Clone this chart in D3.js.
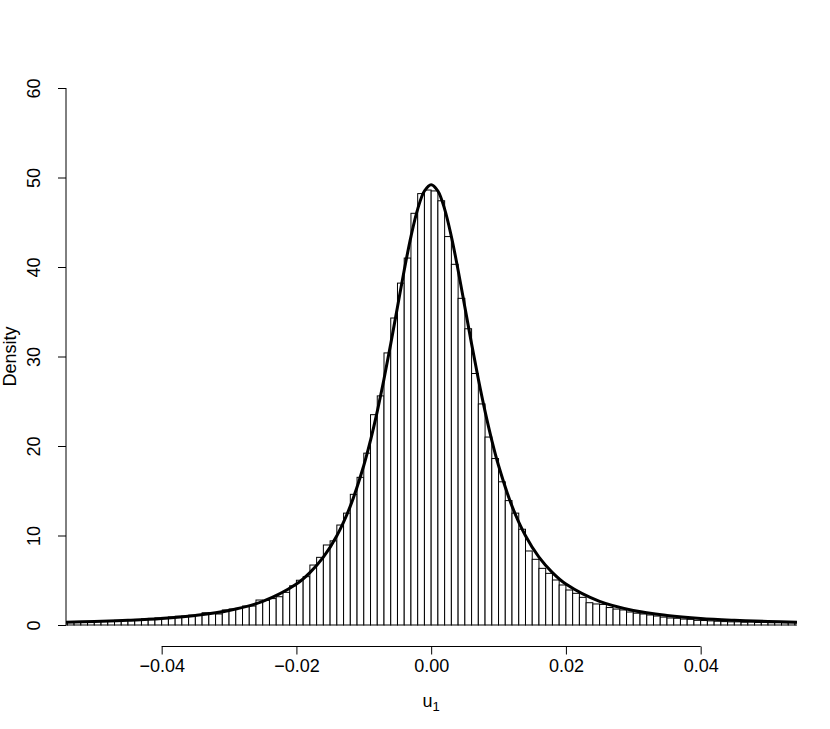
<!DOCTYPE html>
<html><head><meta charset="utf-8">
<script src="https://cdn.jsdelivr.net/npm/d3@7/dist/d3.min.js"></script>
<style>body{margin:0;background:#fff}svg{display:block}text{font-family:"Liberation Sans",Arial,Helvetica,sans-serif;fill:#000}</style>
</head><body>
<svg id="chart" width="830" height="729"></svg>
<script>
// Histogram bins: left edges (width 0.001) and densities
const binStart = d3.range(-55, 55).map(i => i / 1000);
const binDensity = [
  0.35, 0.37, 0.36, 0.33, 0.38, 0.42, 0.47, 0.48, 0.52, 0.50,
  0.60, 0.62, 0.68, 0.74, 0.80, 0.85, 0.90, 0.98, 1.00, 1.10,
  1.12, 1.37, 1.37, 1.23, 1.68, 1.79, 1.86, 2.12, 2.12, 2.79,
  2.75, 2.95, 3.16, 3.65, 4.38, 5.00, 5.40, 6.70, 7.56, 8.94,
  9.40, 11.17, 12.50, 14.60, 16.50, 19.20, 23.50, 25.60, 30.40, 34.30,
  38.20, 41.00, 46.00, 48.20, 48.60,
  48.50, 47.40, 43.40, 40.30, 36.50, 33.10, 28.10, 24.70, 21.00, 18.60,
  16.00, 13.90, 12.50, 10.70, 8.27, 7.34, 6.33, 5.77, 5.03, 4.47,
  3.91, 3.54, 3.09, 2.49, 2.35, 2.30, 1.95, 1.78, 1.68, 1.45,
  1.32, 1.23, 1.12, 1.00, 0.88, 0.78, 0.75, 0.66, 0.63, 0.52,
  0.50, 0.46, 0.42, 0.38, 0.35, 0.35, 0.31, 0.33, 0.28, 0.30,
  0.26, 0.27, 0.25, 0.26, 0.25
];
const binWidth = 0.001;
// Fitted density curve
const curveX = [-0.0545, -0.05, -0.045, -0.04, -0.035, -0.03, -0.025, -0.02, -0.018, -0.016, -0.014, -0.012, -0.01, -0.009, -0.008, -0.007, -0.006, -0.005, -0.004, -0.003, -0.002, -0.001, 0,
  0.001, 0.002, 0.003, 0.004, 0.005, 0.006, 0.007, 0.008, 0.009, 0.01, 0.012, 0.014, 0.016, 0.018, 0.02, 0.025, 0.03, 0.035, 0.04, 0.045, 0.05, 0.0545];
const curveY = [0.30, 0.39, 0.53, 0.73, 1.07, 1.62, 2.63, 4.57, 5.85, 7.58, 9.97, 13.28, 17.82, 20.64, 23.87, 27.48, 31.41, 35.54, 39.64, 43.40, 46.47, 48.49, 49.20,
  48.49, 46.47, 43.40, 39.64, 35.54, 31.41, 27.48, 23.87, 20.64, 17.82, 13.28, 9.97, 7.58, 5.85, 4.57, 2.63, 1.62, 1.07, 0.73, 0.53, 0.39, 0.30];
const xTicks = [-0.04, -0.02, 0, 0.02, 0.04];
const xTickLabels = ["\u22120.04", "\u22120.02", "0.00", "0.02", "0.04"];
const yTicks = [0, 10, 20, 30, 40, 50, 60];
const xLabel = "u";
const xLabelSub = "1";
const yLabel = "Density";

const FS = 18;
const svg = d3.select("#chart");
const pLeft = 66, pRight = 797, pTop = 66.5, pBottom = 646.5;
const x = d3.scaleLinear().domain([-0.0542, 0.0543]).range([pLeft, pRight]);
const y = d3.scaleLinear().domain([0, 60]).range([625, 88]);

svg.append("defs").append("clipPath").attr("id", "clip")
  .append("rect").attr("x", pLeft).attr("y", pTop).attr("width", pRight - pLeft).attr("height", pBottom - pTop);

const plot = svg.append("g").attr("clip-path", "url(#clip)");
plot.selectAll("rect.bar").data(binStart.map((s, i) => ({s, d: binDensity[i]})))
  .join("rect").attr("class", "bar")
  .attr("x", d => x(d.s)).attr("width", d => x(d.s + binWidth) - x(d.s))
  .attr("y", d => y(d.d)).attr("height", d => y(0) - y(d.d))
  .attr("fill", "#fff").attr("stroke", "#000").attr("stroke-width", 1);

const line = d3.line().x((d, i) => x(curveX[i])).y(d => y(d)).curve(d3.curveCatmullRom.alpha(0.5));
plot.append("path").attr("d", line(curveY)).attr("fill", "none")
  .attr("stroke", "#000").attr("stroke-width", 3).attr("stroke-linejoin", "round");

// X axis
const xa = svg.append("g").attr("transform", `translate(0,${pBottom})`)
  .call(d3.axisBottom(x).tickValues(xTicks).tickSize(8).tickPadding(5).tickFormat((d, i) => xTickLabels[i]));
xa.select(".domain").attr("d", `M${x(xTicks[0])},0H${x(xTicks[xTicks.length-1])}`).attr("stroke", "#000");
xa.selectAll("line").attr("stroke", "#000");
xa.selectAll("text").attr("font-size", FS).attr("font-family", "Liberation Sans, Arial, sans-serif").attr("fill", "#000");

// Y axis
const ya = svg.append("g").attr("transform", `translate(${pLeft},0)`)
  .call(d3.axisLeft(y).tickValues(yTicks).tickSize(8).tickFormat(d3.format("d")));
ya.select(".domain").attr("d", `M0,${y(0)}V${y(60)}`).attr("stroke", "#000");
ya.selectAll("line").attr("stroke", "#000");
ya.selectAll("text").attr("font-size", FS).attr("font-family", "Liberation Sans, Arial, sans-serif")
  .attr("fill", "#000").attr("text-anchor", "middle").attr("dy", null)
  .attr("transform", "translate(-26,0) rotate(-90)").attr("x", 0).attr("y", 0);

// Labels
const xl = svg.append("text").attr("x", x(0)).attr("y", 707).attr("text-anchor", "middle").attr("font-size", FS);
xl.append("tspan").text(xLabel);
xl.append("tspan").attr("font-size", 13).attr("dy", 4).text(xLabelSub);
svg.append("text").attr("transform", `translate(16,${(y(0)+y(60))/2}) rotate(-90)`)
  .attr("text-anchor", "middle").attr("font-size", FS).text(yLabel);
</script>
</body></html>
